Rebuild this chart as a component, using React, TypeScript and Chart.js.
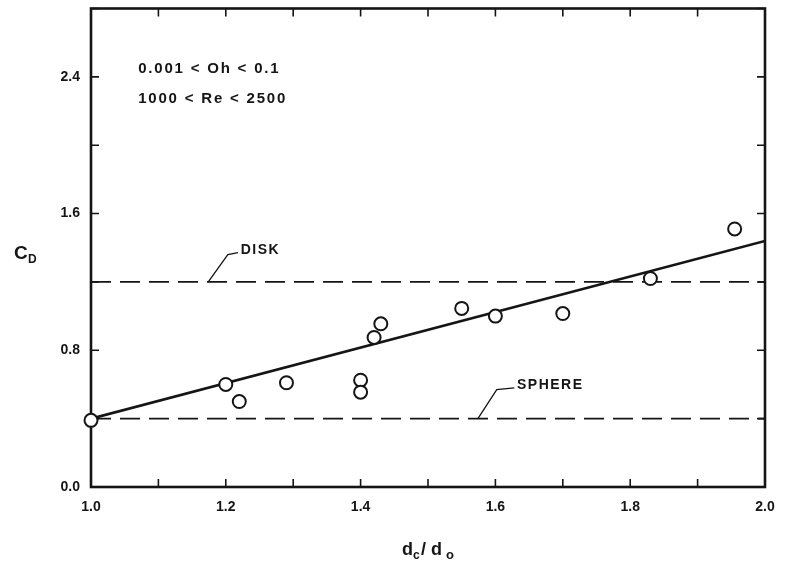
import React, { useEffect, useRef } from "react";
import { Chart, registerables } from "chart.js";
Chart.register(...registerables);

// ---- data ----
const pointX = [1.0, 1.2, 1.22, 1.29, 1.4, 1.4, 1.42, 1.43, 1.55, 1.6, 1.7, 1.83, 1.955];
const pointY = [0.39, 0.6, 0.5, 0.61, 0.625, 0.555, 0.875, 0.955, 1.045, 1.0, 1.015, 1.22, 1.51];
const fitX = [1.0, 2.0];
const fitY = [0.4, 1.44];
const refX = [1.0, 2.0];
const diskCD = 1.2;
const sphereCD = 0.4;
const xTicks = [1.0, 1.2, 1.4, 1.6, 1.8, 2.0];
const xMinorTicks = [1.0, 1.1, 1.2, 1.3, 1.4, 1.5, 1.6, 1.7, 1.8, 1.9, 2.0];
const yTicks = [0.0, 0.8, 1.6, 2.4];
const yMinorTicks = [0.0, 0.4, 0.8, 1.2, 1.6, 2.0, 2.4, 2.8];
const noteLines = ["0.001 < Oh < 0.1", "1000 < Re < 2500"];

const INK = "#151515";
const FONT = "'Liberation Sans', Arial, sans-serif";

const zeroPad = (s: any) => {
  s.paddingTop = 0;
  s.paddingBottom = 0;
  s.paddingLeft = 0;
  s.paddingRight = 0;
};

const framePlugin = {
  id: "frameAndNotes",
  beforeDatasetsDraw(chart: any) {
    const { ctx, chartArea: a, scales } = chart;
    const xs = scales.x, ys = scales.y;
    ctx.save();
    ctx.strokeStyle = INK;
    ctx.lineWidth = 2.6;
    ctx.strokeRect(a.left, a.top, a.right - a.left, a.bottom - a.top);
    ctx.lineWidth = 1.6;
    const tl = 8;
    ctx.beginPath();
    xMinorTicks.forEach((v) => {
      const px = xs.getPixelForValue(v);
      ctx.moveTo(px, a.bottom); ctx.lineTo(px, a.bottom - tl);
      ctx.moveTo(px, a.top); ctx.lineTo(px, a.top + tl);
    });
    yMinorTicks.forEach((v) => {
      const py = ys.getPixelForValue(v);
      ctx.moveTo(a.left, py); ctx.lineTo(a.left + tl, py);
      ctx.moveTo(a.right, py); ctx.lineTo(a.right - tl, py);
    });
    ctx.stroke();

    // leader lines
    ctx.lineWidth = 1.3;
    ctx.beginPath();
    ctx.moveTo(xs.getPixelForValue(1.174), ys.getPixelForValue(diskCD));
    ctx.lineTo(xs.getPixelForValue(1.203), ys.getPixelForValue(1.36));
    ctx.lineTo(xs.getPixelForValue(1.218), ys.getPixelForValue(1.372));
    ctx.moveTo(xs.getPixelForValue(1.574), ys.getPixelForValue(sphereCD));
    ctx.lineTo(xs.getPixelForValue(1.602), ys.getPixelForValue(0.57));
    ctx.lineTo(xs.getPixelForValue(1.628), ys.getPixelForValue(0.58));
    ctx.stroke();

    // texts
    ctx.fillStyle = INK;
    ctx.textBaseline = "middle";
    ctx.textAlign = "left";
    ctx.font = `bold 14px ${FONT}`;
    (ctx as any).letterSpacing = "1.5px";
    ctx.fillText("DISK", xs.getPixelForValue(1.222), ys.getPixelForValue(1.385));
    ctx.fillText("SPHERE", xs.getPixelForValue(1.632), ys.getPixelForValue(0.595));
    ctx.font = `bold 15px ${FONT}`;
    (ctx as any).letterSpacing = "1.8px";
    ctx.fillText(noteLines[0], xs.getPixelForValue(1.07), ys.getPixelForValue(2.445));
    ctx.fillText(noteLines[1], xs.getPixelForValue(1.07), ys.getPixelForValue(2.27));
    (ctx as any).letterSpacing = "0px";

    // axis titles
    ctx.font = `bold 19px ${FONT}`;
    ctx.textBaseline = "alphabetic";
    ctx.fillText("C", 14, 259);
    ctx.font = `bold 12px ${FONT}`;
    ctx.fillText("D", 28, 263);
    ctx.font = `bold 18px ${FONT}`;
    ctx.fillText("d", 402, 555);
    ctx.font = `bold 12px ${FONT}`;
    ctx.fillText("c", 413, 559);
    ctx.font = `bold 18px ${FONT}`;
    ctx.fillText("/", 421, 555);
    ctx.fillText("d", 431, 555);
    ctx.font = `bold 13px ${FONT}`;
    ctx.fillText("o", 446, 559);
    ctx.restore();
  },
};

export default function App() {
  const ref = useRef<HTMLCanvasElement | null>(null);
  useEffect(() => {
    if (!ref.current) return;
    const chart = new Chart(ref.current, {
      type: "scatter",
      data: {
        datasets: [
          {
            label: "data",
            data: pointX.map((x, i) => ({ x, y: pointY[i] })),
            pointRadius: 6.5,
            pointBackgroundColor: "#ffffff",
            pointBorderColor: INK,
            pointBorderWidth: 2,
            showLine: false,
            clip: false as any,
          },
          {
            label: "fit",
            type: "line" as any,
            data: fitX.map((x, i) => ({ x, y: fitY[i] })),
            borderColor: INK,
            borderWidth: 2.6,
            pointRadius: 0,
          },
          {
            label: "disk",
            type: "line" as any,
            data: refX.map((x) => ({ x, y: diskCD })),
            borderColor: INK,
            borderWidth: 1.8,
            borderDash: [20, 9],
            pointRadius: 0,
          },
          {
            label: "sphere",
            type: "line" as any,
            data: refX.map((x) => ({ x, y: sphereCD })),
            borderColor: INK,
            borderWidth: 1.8,
            borderDash: [20, 9],
            pointRadius: 0,
          },
        ],
      },
      options: {
        animation: false,
        responsive: false,
        maintainAspectRatio: false,
        layout: { padding: { left: 0, top: 5, right: 20, bottom: 0 } },
        plugins: { legend: { display: false }, tooltip: { enabled: false } },
        scales: {
          x: {
            type: "linear",
            min: 1.0,
            max: 2.0,
            grid: { display: false, drawTicks: false },
            border: { display: false },
            afterBuildTicks: (s: any) => { s.ticks = xTicks.map((v) => ({ value: v })); },
            afterFit: (s: any) => { s.height = 79; zeroPad(s); },
            ticks: {
              padding: 12,
              color: INK,
              font: { family: FONT, size: 14, weight: "bold" },
              callback: (v: any) => Number(v).toFixed(1),
              maxRotation: 0,
            },
          },
          y: {
            type: "linear",
            min: 0,
            max: 2.8,
            grid: { display: false, drawTicks: false },
            border: { display: false },
            afterBuildTicks: (s: any) => { s.ticks = yTicks.map((v) => ({ value: v })); },
            afterFit: (s: any) => { s.width = 91; zeroPad(s); },
            ticks: {
              padding: 11,
              color: INK,
              font: { family: FONT, size: 14, weight: "bold" },
              callback: (v: any) => Number(v).toFixed(1),
            },
          },
        },
      },
      plugins: [framePlugin],
    });
    return () => chart.destroy();
  }, []);
  return (
    <div style={{ position: "fixed", left: 0, top: 0, width: 785, height: 566, background: "#fff" }}>
      <canvas ref={ref} width={785} height={566} style={{ width: 785, height: 566 }} />
    </div>
  );
}
